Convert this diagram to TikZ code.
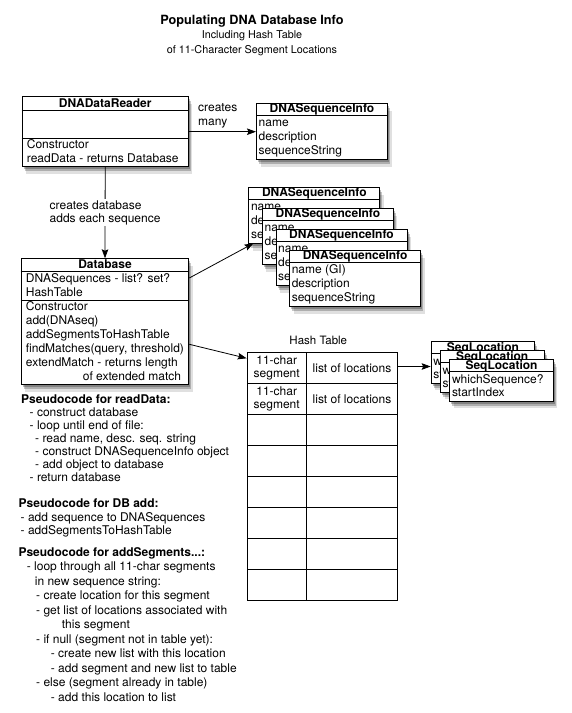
\documentclass[tikz,border=0pt]{standalone}
\usepackage{fontspec}
\setmainfont{TeX Gyre Heros}
\usetikzlibrary{shadows,arrows.meta}
\tikzset{
  umlbox/.style={draw, fill=white, line width=1pt, inner sep=0pt, anchor=north west,
    general shadow={fill=black, opacity=0.12, shadow xshift=4pt, shadow yshift=-7pt},
    general shadow={fill=black, opacity=0.22, shadow xshift=2.5pt, shadow yshift=-4.5pt},
    general shadow={fill=black, opacity=0.25, shadow xshift=1.5pt, shadow yshift=-2.5pt}},
  ttl/.style={font=\bfseries\fontsize{12}{14}\selectfont, inner sep=0pt, anchor=base},
  txt/.style={font=\fontsize{12}{14}\selectfont, inner sep=0pt, anchor=base west},
  sep/.style={line width=1pt},
  arr/.style={-{Stealth[length=9pt,width=6.5pt,inset=1.5pt]}, line width=0.8pt},
  cell/.style={draw, line width=1pt, minimum height=31pt, inner sep=0pt, anchor=north west},
  celltxt/.style={align=center, inner sep=0pt, font=\fontsize{12}{13}\selectfont},
}
\newcommand\infobox[4]{%
  \node[umlbox, minimum width=131pt, minimum height=56pt] (#1) at (#2,#3) {};
  \draw[sep] ([yshift=-12pt]#1.north west) -- ([yshift=-12pt]#1.north east);
  \node[ttl] (#1-t) at ([yshift=-9.3pt]#1.north) {DNASequenceInfo};
  \node[txt] (#1-a) at ([xshift=2.5pt,yshift=-23pt]#1.north west) {#4};
  \node[txt] (#1-b) at ([xshift=2.5pt,yshift=-37pt]#1.north west) {description};
  \node[txt] (#1-c) at ([xshift=2.5pt,yshift=-51pt]#1.north west) {sequenceString};
}
\newcommand\locbox[3]{%
  \node[umlbox, minimum width=103.5pt, minimum height=41.7pt] (#1) at (#2,#3) {};
  \draw[sep] ([yshift=-12.7pt]#1.north west) -- ([yshift=-12.7pt]#1.north east);
  \node[ttl] (#1-t) at ([yshift=-10pt]#1.north) {SeqLocation};
  \node[txt] (#1-a) at ([xshift=2.5pt,yshift=-24pt]#1.north west) {whichSequence?};
  \node[txt] (#1-b) at ([xshift=2.5pt,yshift=-37.5pt]#1.north west) {startIndex};
}
\begin{document}
\begin{tikzpicture}[x=1pt,y=-1pt]
\useasboundingbox[fill=white] (0,0) rectangle (572,713);

% title
\node[inner sep=0pt, anchor=base, font=\bfseries\fontsize{12.7}{14}\selectfont] (title) at (252,24.5) {Populating DNA Database Info};
\node[inner sep=0pt, anchor=base, font=\fontsize{10.8}{13}\selectfont] (sub1) at (252,38.7) {Including Hash Table};
\node[inner sep=0pt, anchor=base, font=\fontsize{10.8}{13}\selectfont] (sub2) at (252,53) {of 11-Character Segment Locations};

% DNADataReader
\node[umlbox, minimum width=166pt, minimum height=70pt] (dr) at (21.7,96) {};
\draw[sep] ([yshift=-14.7pt]dr.north west) -- ([yshift=-14.7pt]dr.north east);
\draw[sep] ([yshift=-42.3pt]dr.north west) -- ([yshift=-42.3pt]dr.north east);
\node[ttl] (dr-t) at ([yshift=-11.5pt]dr.north) {DNADataReader};
\node[txt] (dr-a) at ([xshift=5pt,yshift=-52.5pt]dr.north west) {Constructor};
\node[txt] (dr-b) at ([xshift=5pt,yshift=-66.5pt]dr.north west) {readData - returns Database};

% top DNASequenceInfo
\infobox{si}{256}{103.3}{name}

% stacked DNASequenceInfo
\infobox{sa}{248.3}{187.3}{name}
\infobox{sb}{261.9}{208.2}{name}
\infobox{sc}{275.5}{229.1}{name}
\infobox{sd}{289.1}{250}{name (GI)}

% Database
\node[umlbox, minimum width=167.6pt, minimum height=125.7pt] (db) at (20.7,258.3) {};
\draw[sep] ([yshift=-12.7pt]db.north west) -- ([yshift=-12.7pt]db.north east);
\draw[sep] ([yshift=-41.7pt]db.north west) -- ([yshift=-41.7pt]db.north east);
\node[ttl] (db-t) at ([yshift=-10pt]db.north) {Database};
\foreach \t/\d [count=\i] in {{DNASequences - list? set?}/23.7, HashTable/37.7, Constructor/52.2, add(DNAseq)/66.2, addSegmentsToHashTable/80.2, {findMatches(query, threshold)}/94.2, extendMatch - returns length/108.2}
  \node[txt] (db-\i) at ([xshift=5pt,yshift=-\d pt]db.north west) {\t};
\node[txt, anchor=base east] (db-8) at ([xshift=-8pt,yshift=-122.2pt]db.north east) {of extended match};

% hash table
\node[inner sep=0pt, font=\fontsize{11.5}{13}\selectfont] (htl) at (318.3,340.7) {Hash Table};
\foreach \r in {0,...,7} {
  \node[cell, minimum width=59pt] (h\r a) at (246.7,352.3+31*\r) {};
  \node[cell, minimum width=91.6pt] (h\r b) at (305.7,352.3+31*\r) {};
}
\node[celltxt] (c0a) at (h0a) {11-char\\segment};
\node[celltxt] (c0b) at (h0b) {list of locations};
\node[celltxt] (c1a) at (h1a) {11-char\\segment};
\node[celltxt] (c1b) at (h1b) {list of locations};

% SeqLocation stack
\locbox{la}{430.7}{341}
\locbox{lb}{440}{350}
\locbox{lc}{449.3}{359}

% connectors
\coordinate (ya) at (0,131.7);
\coordinate (yb) at (0,278);
\coordinate (yc) at (0,344.3);
\coordinate (yd) at (0,358.3);
\coordinate (ye) at (0,366.5);
\coordinate (satip) at (253.5,243.3);
\draw[arr] (dr.east |- ya) -- (si.west |- ya);
\node[txt] (cm1) at (198,111) {creates};
\node[txt] (cm2) at (198,125) {many};
\draw[arr] (dr.south) -- node[midway, fill=white, align=left, inner sep=1pt, font=\fontsize{12}{13.3}\selectfont] (cdb) {creates database\\adds each sequence} (db.north);
\draw[arr] (db.east |- yb) -- (satip);
\draw[arr] (db.east |- yc) -- (h0a.west |- yd);
\draw[arr] (h0b.east |- ye) -- (la.west |- ye);

% pseudocode
\foreach \x/\y/\t [count=\i] in {
  21/403/{\textbf{Pseudocode for readData:}},
  29.5/416/{- construct database},
  29.5/429/{- loop until end of file:},
  35/442/{- read name, desc. seq. string},
  35/455/{- construct DNASequenceInfo object},
  35/468/{- add object to database},
  29.5/481/{- return database},
  18.5/507/{\textbf{Pseudocode for DB add:}},
  20.5/521/{- add sequence to DNASequences},
  20.5/534.5/{- addSegmentsToHashTable},
  18.3/556/{\textbf{Pseudocode for addSegments...:}},
  26.7/570.5/{- loop through all 11-char segments},
  34.7/585/{in new sequence string:},
  36/599.5/{- create location for this segment},
  36/614/{- get list of locations associated with},
  61.7/628.5/{this segment},
  36/643/{- if null (segment not in table yet):},
  50.7/657.5/{- create new list with this location},
  50.7/672/{- add segment and new list to table},
  36/686.5/{- else (segment already in table)},
  50.7/701/{- add this location to list}}
  \node[txt] (p\i) at (\x,\y) {\t};
\end{tikzpicture}
\end{document}
